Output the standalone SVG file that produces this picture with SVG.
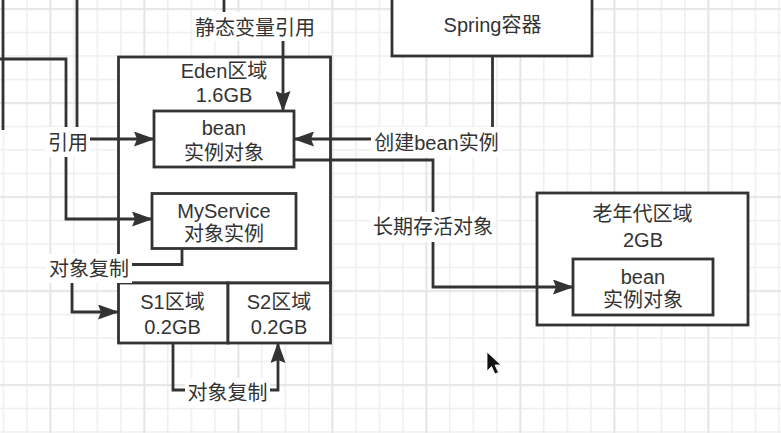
<svg xmlns="http://www.w3.org/2000/svg" width="781" height="433" viewBox="0 0 781 433">
  <style>
    .box { fill: #ffffff; stroke: #333333; stroke-width: 2.8; }
    .nofill { fill: none; stroke: #333333; stroke-width: 2.8; }
    .t { font-family: "Liberation Sans", "Noto Sans CJK SC", sans-serif; font-size: 20px; fill: #333333; text-anchor: middle; dominant-baseline: central; }
    .edge { fill: none; stroke: #333333; stroke-width: 2.8; stroke-linejoin: miter; }
    .lbg { fill: #ffffff; }
  </style>
  <defs>
    <pattern id="gminor" width="23.5" height="23.5" patternUnits="userSpaceOnUse" x="2.55" y="8.25">
      <path d="M0,0.75 H23.5 M0.75,0 V23.5" stroke="#eeeeee" stroke-width="1.5" fill="none"/>
    </pattern>
    <pattern id="gmajor" width="94" height="94" patternUnits="userSpaceOnUse" x="49.55" y="8.25">
      <path d="M0,0.75 H94 M0.75,0 V94" stroke="#e3e3e3" stroke-width="1.5" fill="none"/>
    </pattern>
    <marker id="arr" viewBox="0 0 21 15" refX="20" refY="7.5" markerWidth="21" markerHeight="15" markerUnits="userSpaceOnUse" orient="auto">
      <path d="M0,0 L21,7.5 L0,15 L3,7.5 z" fill="#333333"/>
    </marker>
  </defs>

  <rect width="781" height="433" fill="#ffffff"/>
  <rect width="781" height="433" fill="url(#gminor)"/>
  <rect width="781" height="433" fill="url(#gmajor)"/>

  <!-- Nodes -->
  <g id="spring">
    <rect class="box" x="392" y="-6" width="200" height="62"/>
    <text class="t" x="492.5" y="25">Spring容器</text>
  </g>

  <g id="eden">
    <rect class="box" x="118.5" y="57" width="212" height="226"/>
    <text class="t" x="224" y="71">Eden区域</text>
    <text class="t" x="224" y="94.5">1.6GB</text>
  </g>

  <g id="bean-eden">
    <rect class="box" x="154" y="111" width="140" height="56"/>
    <text class="t" x="224" y="128">bean</text>
    <text class="t" x="224" y="152.5">实例对象</text>
  </g>

  <g id="myservice">
    <rect class="box" x="152" y="193.5" width="144" height="55"/>
    <text class="t" x="224" y="210.5">MyService</text>
    <text class="t" x="224" y="234">对象实例</text>
  </g>

  <g id="s1">
    <rect class="box" x="118.5" y="283" width="109.5" height="60"/>
    <text class="t" x="172.5" y="302">S1区域</text>
    <text class="t" x="172.5" y="327">0.2GB</text>
  </g>

  <g id="s2">
    <rect class="box" x="228" y="283" width="102.5" height="60"/>
    <text class="t" x="279" y="302">S2区域</text>
    <text class="t" x="279" y="327">0.2GB</text>
  </g>

  <g id="oldgen">
    <rect class="box" x="537" y="193" width="211" height="132"/>
    <text class="t" x="642.5" y="214">老年代区域</text>
    <text class="t" x="643" y="240">2GB</text>
  </g>

  <g id="bean-old">
    <rect class="box" x="573" y="259" width="140" height="56"/>
    <text class="t" x="643" y="276.5">bean</text>
    <text class="t" x="643" y="300">实例对象</text>
  </g>

  <!-- Connectors -->
  <g id="connectors">
    <path class="edge" d="M3,0 V130"/>
    <path class="edge" d="M0,59 H66 V219 H152" marker-end="url(#arr)"/>
    <path class="edge" d="M77,0 V139 H154" marker-end="url(#arr)"/>
    <path class="edge" d="M224,0 V27 H283 V111" marker-end="url(#arr)"/>
    <path class="edge" d="M492.5,56 V139 H294" marker-end="url(#arr)"/>
    <path class="edge" d="M294,160 H433 V287 H573" marker-end="url(#arr)"/>
    <path class="edge" d="M182,248.5 V264.5 H72 V312 H118" marker-end="url(#arr)"/>
    <path class="edge" d="M173,343 V390 H278 V343" marker-end="url(#arr)"/>
  </g>

  <!-- Edge labels -->
  <g id="edge-labels">
    <rect class="lbg" x="192" y="12" width="126" height="29"/>
    <text class="t" x="255" y="27.5">静态变量引用</text>

    <rect class="lbg" x="45" y="127" width="45" height="30"/>
    <text class="t" x="68" y="143">引用</text>

    <rect class="lbg" x="371" y="127" width="131" height="30"/>
    <text class="t" x="436.5" y="143">创建bean实例</text>

    <rect class="lbg" x="371" y="212" width="124" height="30"/>
    <text class="t" x="433" y="227">长期存活对象</text>

    <rect class="lbg" x="46" y="254" width="86" height="29"/>
    <text class="t" x="89" y="269">对象复制</text>

    <rect class="lbg" x="185" y="378" width="85" height="30"/>
    <text class="t" x="227.5" y="393">对象复制</text>
  </g>

  <!-- Mouse pointer visible in the picture -->
  <g id="pointer">
    <path d="M487,352 V371 L491.5,366.5 L495,374 L498.5,372.5 L495,365 L501,365 Z" fill="#111111" stroke="#ffffff" stroke-width="0.8"/>
  </g>
</svg>
